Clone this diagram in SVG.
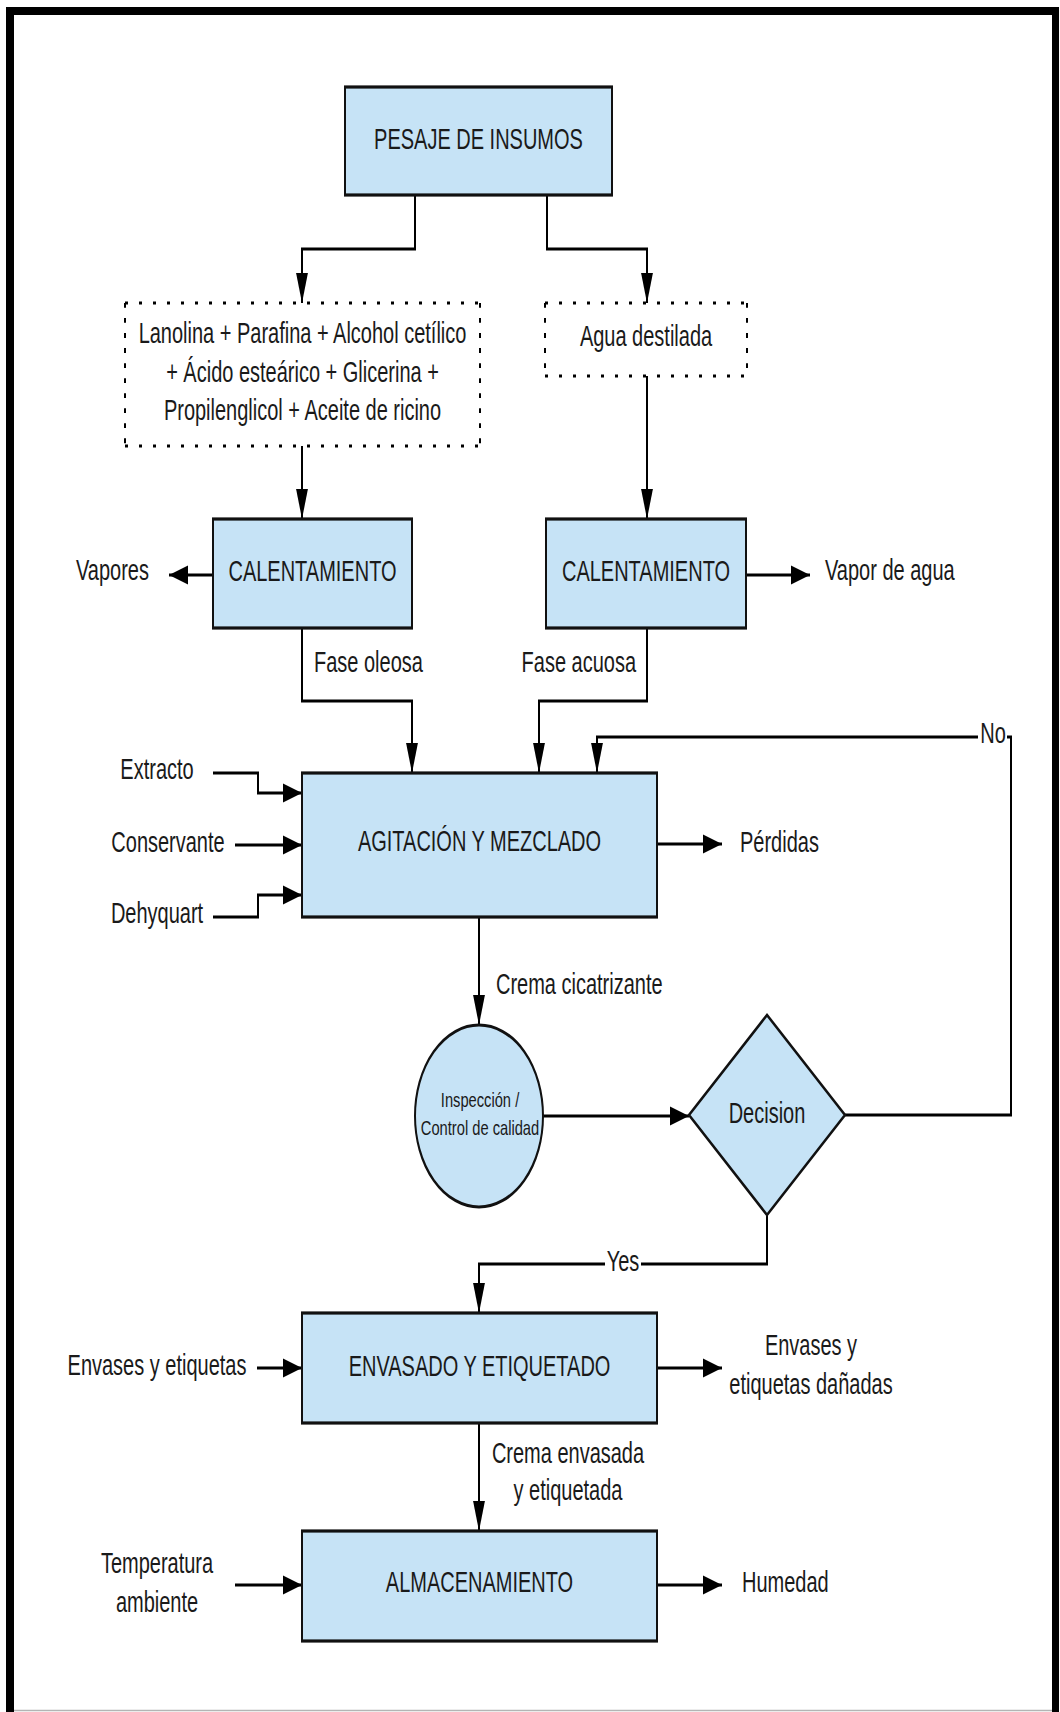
<svg xmlns="http://www.w3.org/2000/svg" width="1060" height="1712" viewBox="0 0 1060 1712">
  <defs>
    <style>
      .box { fill: #c6e3f6; stroke: #111; stroke-width: 2; }
      .con { fill: none; stroke: #000; stroke-width: 2; marker-end: url(#arr); }
      .dh { fill: none; stroke: #000; stroke-width: 2; stroke-dasharray: 3 11; }
      .dv { fill: none; stroke: #000; stroke-width: 2; stroke-dasharray: 3 6.4; }
      text { font-family: "Liberation Sans", Arial, sans-serif; font-size: 20px; fill: #1a1a1a; }
      .c { text-anchor: middle; }
      .e { text-anchor: end; }
      .sm { font-size: 14.7px; }
      .bg { fill: #fff; }
    </style>
    <!-- shapes and connectors are drawn in a space stretched 1.6x vertically -->
    <marker id="arr" viewBox="0 0 19 12" refX="19" refY="6" markerWidth="19" markerHeight="12" markerUnits="userSpaceOnUse" orient="auto">
      <path d="M0,0 L19,6 L0,12 Z" fill="#000"/>
    </marker>
  </defs>

  <rect width="1060" height="1712" fill="#fff"/>

  <!-- outer frame -->
  <g id="frame">
    <rect x="6" y="7" width="8" height="1705" fill="#000"/>
    <rect x="6" y="7" width="1053" height="8" fill="#000"/>
    <rect x="1052" y="7" width="7" height="1705" fill="#000"/>
    <line x1="14" y1="1710.5" x2="1052" y2="1710.5" stroke="#b4b4b4" stroke-width="1.5"/>
  </g>

  <!-- connectors -->
  <g id="connectors" transform="scale(1 1.6)">
    <path class="con" d="M415,121.875 V155.625 H302 V189.375"/>
    <path class="con" d="M547,121.875 V155.625 H647 V189.375"/>
    <path class="con" d="M302,278.75 V324.375"/>
    <path class="con" d="M647,235 V324.375"/>
    <path class="con" d="M213,359.375 H169"/>
    <path class="con" d="M746,359.375 H810"/>
    <path class="con" d="M302,392.5 V438.125 H412 V483.125"/>
    <path class="con" d="M647,392.5 V438.125 H539 V483.125"/>
    <path class="con" d="M213,483.125 H258 V495.625 H302"/>
    <path class="con" d="M235,528.125 H302"/>
    <path class="con" d="M213,573.125 H258 V559.375 H302"/>
    <path class="con" d="M657,527.5 H722"/>
    <path class="con" d="M479,573.125 V640.625"/>
    <path class="con" d="M543,697.5 H689"/>
    <path class="con" d="M845,696.875 H1011 V460.625 H597 V483.125"/>
    <path class="con" d="M767,759.375 V790 H479 V820.625"/>
    <path class="con" d="M257,855 H302"/>
    <path class="con" d="M657,855 H722"/>
    <path class="con" d="M479,889.375 V956.875"/>
    <path class="con" d="M235,990.625 H302"/>
    <path class="con" d="M657,990.625 H722"/>
  </g>

  <!-- connector labels -->
  <g id="labels">
    <text transform="matrix(1 0 0 1.47 314 672)">Fase oleosa</text>
    <text class="e" transform="matrix(1 0 0 1.47 636 672)">Fase acuosa</text>
    <text transform="matrix(1 0 0 1.47 496 994)">Crema cicatrizante</text>
    <rect class="bg" x="978" y="722" width="29" height="26"/>
    <text class="c" transform="matrix(1 0 0 1.47 993 743)">No</text>
    <rect class="bg" x="605" y="1249" width="36" height="28"/>
    <text class="c" transform="matrix(1 0 0 1.47 623 1271)">Yes</text>
    <text class="c" transform="matrix(1 0 0 1.47 568 1463)"><tspan x="0">Crema envasada</tspan><tspan x="0" dy="25.2">y etiquetada</tspan></text>
  </g>

  <g id="n-pesaje">
    <rect class="box" transform="scale(1 1.6)" x="345" y="54.375" width="267" height="67.5"/>
    <text class="c" transform="matrix(1 0 0 1.47 478.5 149)">PESAJE DE INSUMOS</text>
  </g>

  <g id="n-fase-oleosa-insumos">
    <g transform="scale(1 1.6)">
      <rect x="125" y="189.375" width="355" height="89.375" fill="#fff"/>
      <path class="dh" d="M125,189.375 H480 M125,278.75 H480"/>
      <path class="dv" d="M125,189.375 V278.75 M480,189.375 V278.75"/>
    </g>
    <text class="c" transform="matrix(1 0 0 1.47 302.5 343)"><tspan x="0">Lanolina + Parafina + Alcohol cetílico</tspan><tspan x="0" dy="26.2">+ Ácido esteárico + Glicerina +</tspan><tspan x="0" dy="26.2">Propilenglicol + Aceite de ricino</tspan></text>
  </g>

  <g id="n-agua">
    <g transform="scale(1 1.6)">
      <rect x="545" y="189.375" width="202" height="45.625" fill="#fff"/>
      <path class="dh" d="M545,189.375 H747 M545,235 H747"/>
      <path class="dv" d="M545,189.375 V235 M747,189.375 V235"/>
    </g>
    <text class="c" transform="matrix(1 0 0 1.47 646 346)">Agua destilada</text>
  </g>

  <g id="n-calentamiento-1">
    <rect class="box" transform="scale(1 1.6)" x="213" y="324.375" width="199" height="68.125"/>
    <text class="c" transform="matrix(1 0 0 1.47 312.5 581)">CALENTAMIENTO</text>
  </g>

  <g id="n-calentamiento-2">
    <rect class="box" transform="scale(1 1.6)" x="546" y="324.375" width="200" height="68.125"/>
    <text class="c" transform="matrix(1 0 0 1.47 646 581)">CALENTAMIENTO</text>
  </g>

  <g id="n-vapores">
    <text class="c" transform="matrix(1 0 0 1.47 112.5 580)">Vapores</text>
  </g>

  <g id="n-vapor-agua">
    <text transform="matrix(1 0 0 1.47 825 580)">Vapor de agua</text>
  </g>

  <g id="n-extracto">
    <text class="c" transform="matrix(1 0 0 1.47 157 779)">Extracto</text>
  </g>

  <g id="n-conservante">
    <text class="c" transform="matrix(1 0 0 1.47 168 852)">Conservante</text>
  </g>

  <g id="n-dehyquart">
    <text class="c" transform="matrix(1 0 0 1.47 157 923)">Dehyquart</text>
  </g>

  <g id="n-agitacion">
    <rect class="box" transform="scale(1 1.6)" x="302" y="483.125" width="355" height="90"/>
    <text class="c" transform="matrix(1 0 0 1.47 479.5 851)">AGITACIÓN Y MEZCLADO</text>
  </g>

  <g id="n-perdidas">
    <text transform="matrix(1 0 0 1.47 740 852)">Pérdidas</text>
  </g>

  <g id="n-inspeccion">
    <ellipse class="box" transform="scale(1 1.6)" cx="479" cy="697.5" rx="64" ry="56.875"/>
    <text class="c sm" transform="matrix(1 0 0 1.4 480 1107)"><tspan x="0">Inspección /</tspan><tspan x="0" dy="20">Control de calidad</tspan></text>
  </g>

  <g id="n-decision">
    <polygon class="box" transform="scale(1 1.6)" points="767,634.375 845,696.875 767,759.375 689,696.875"/>
    <text class="c" transform="matrix(1 0 0 1.47 767 1123)">Decision</text>
  </g>

  <g id="n-envasado">
    <rect class="box" transform="scale(1 1.6)" x="302" y="820.625" width="355" height="68.75"/>
    <text class="c" transform="matrix(1 0 0 1.47 479.5 1376)">ENVASADO Y ETIQUETADO</text>
  </g>

  <g id="n-envases-in">
    <text class="c" transform="matrix(1 0 0 1.47 157 1375)">Envases y etiquetas</text>
  </g>

  <g id="n-envases-out">
    <text class="c" transform="matrix(1 0 0 1.47 811 1355)"><tspan x="0">Envases y</tspan><tspan x="0" dy="26.5">etiquetas dañadas</tspan></text>
  </g>

  <g id="n-almacenamiento">
    <rect class="box" transform="scale(1 1.6)" x="302" y="956.875" width="355" height="68.75"/>
    <text class="c" transform="matrix(1 0 0 1.47 479.5 1592)">ALMACENAMIENTO</text>
  </g>

  <g id="n-temperatura">
    <text class="c" transform="matrix(1 0 0 1.47 157 1573)"><tspan x="0">Temperatura</tspan><tspan x="0" dy="26.5">ambiente</tspan></text>
  </g>

  <g id="n-humedad">
    <text transform="matrix(1 0 0 1.47 742 1592)">Humedad</text>
  </g>
</svg>
